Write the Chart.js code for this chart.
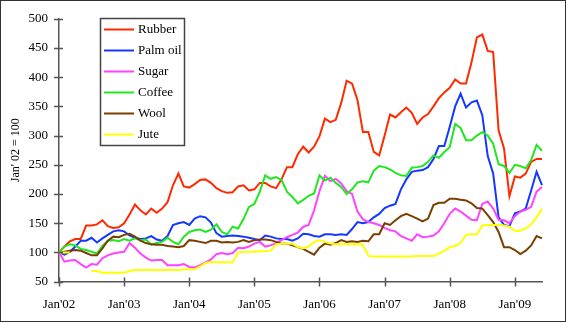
<!DOCTYPE html>
<html>
<head>
<meta charset="utf-8">
<title>Commodity prices</title>
<script src="https://cdn.jsdelivr.net/npm/chart.js@4.4.1/dist/chart.umd.min.js"></script>
<style>
  html, body { margin: 0; padding: 0; background: #fff; }
  #wrap { position: relative; width: 566px; height: 323px; }
  #frame {
    position: absolute; left: 0; top: 0; width: 566px; height: 322px;
    box-sizing: border-box; border: 1px solid #333; pointer-events: none;
  }
</style>
</head>
<body>
<div id="wrap">
  <canvas id="commodityChart" width="566" height="323"></canvas>
  <div id="frame"></div>
</div>
<script>
// Monthly price indices, Jan 2002 = 100, from Jan'02 to Jun'09
const monthNames = ['Jan', 'Feb', 'Mar', 'Apr', 'May', 'Jun', 'Jul', 'Aug', 'Sep', 'Oct', 'Nov', 'Dec'];
const startYear = 2002;
const monthCount = 90;

const seriesNames = ['Rubber', 'Palm oil', 'Sugar', 'Coffee', 'Wool', 'Jute'];
const seriesColors = ['#ff2a00', '#1438ff', '#ff44ff', '#22e622', '#7a3e00', '#ffff00'];

const rubber = [
  100, 110, 119, 123, 123, 146, 146, 148, 155, 145, 142, 143,
  150, 165, 182, 172, 165, 175, 168, 175, 186, 215, 235, 213,
  211, 217, 224, 225, 219, 210, 205, 202, 203, 213, 215, 206,
  208, 219, 219, 213, 210, 225, 246, 246, 268, 281, 271, 281,
  299, 329, 323, 327, 356, 394, 389, 361, 306, 306, 272, 266,
  300, 336, 331, 340, 348, 339, 320, 331, 337, 350, 364, 374,
  382, 396, 389, 389, 425, 468, 473, 445, 443, 309, 278, 196,
  230, 228, 235, 255, 260, 260
];
const palmOil = [
  100, 96, 101, 110, 120, 120, 125, 117, 124, 130, 136, 138,
  136, 129, 125, 123, 124, 128, 122, 120, 128, 147, 150, 152,
  147, 158, 162, 160, 151, 133, 127, 128, 129, 128, 127, 125,
  123, 121, 129, 127, 124, 123, 123, 120, 124, 132, 131, 128,
  127, 131, 131, 130, 131, 130, 140, 152, 150, 152, 160, 166,
  176, 180, 183, 208, 225, 238, 240, 241, 246, 260, 282, 282,
  315, 350, 372, 348, 357, 360, 335, 265, 235, 160, 147, 145,
  167, 170, 175, 206, 238, 215
];
const sugar = [
  100, 84, 86, 87, 80, 74, 80, 79, 90, 95, 98, 100,
  101, 116, 108, 98, 91, 86, 87, 87, 78, 78, 78, 80,
  75, 74, 78, 83, 88, 97, 99, 97, 99, 108, 107, 110,
  115, 118, 110, 112, 116, 121, 126, 130, 134, 144, 147, 172,
  205, 231, 222, 226, 218, 205, 200, 170, 157, 152, 150, 147,
  142, 138, 136, 128, 124, 120, 131, 126, 127, 129, 136, 150,
  166, 175, 170, 163, 156, 155, 183, 187, 175, 156, 155, 150,
  162, 170, 173, 178, 204, 212
];
const coffee = [
  100, 110, 114, 112, 106, 104, 101, 98, 111, 120, 121, 119,
  123, 120, 124, 121, 122, 113, 116, 118, 125, 118, 114, 127,
  135, 138, 139, 135, 139, 148, 135, 131, 144, 141, 157, 178,
  183, 204, 232, 226, 229, 224, 204, 195, 184, 190, 197, 201,
  232, 223, 228, 219, 212, 200, 208, 220, 222, 220, 240, 248,
  246, 242, 236, 232, 231, 245, 246, 248, 255, 266, 262, 272,
  280, 320, 313, 292, 292, 300, 306, 300, 286, 251, 248, 236,
  250, 248, 244, 258, 284, 274
];
const wool = [
  100, 101, 103, 104, 103, 99, 95, 95, 107, 120, 127, 126,
  130, 132, 127, 120, 116, 114, 113, 113, 111, 110, 109, 111,
  121, 120, 118, 116, 120, 120, 117, 118, 117, 118, 121, 118,
  121, 122, 122, 121, 118, 115, 115, 112, 109, 106, 101, 96,
  108, 115, 113, 116, 121, 118, 119, 118, 120, 119, 131, 131,
  150, 147, 155, 162, 166, 162, 158, 153, 158, 181, 185, 185,
  192, 192, 190, 189, 184, 176, 175, 164, 152, 135, 109, 109,
  104, 97, 103, 112, 128, 124
];
// no Jute quotes for Apr-Jun 2002
const jute = [
  100, 100, 100, null, null, null, 68, 68, 65, 65, 65, 65,
  65, 68, 70, 70, 70, 70, 70, 70, 70, 70, 70, 71,
  71, 71, 76, 82, 84, 83, 83, 83, 83, 100, 101, 101,
  101, 102, 102, 103, 114, 115, 115, 115, 109, 107, 110, 118,
  121, 118, 115, 114, 114, 114, 114, 114, 113, 94, 93, 93,
  93, 93, 93, 93, 93, 93, 94, 94, 94, 94, 98, 103,
  109, 111, 116, 130, 131, 131, 146, 147, 147, 147, 146, 144,
  137, 137, 141, 148, 160, 175
];

const seriesValues = [rubber, palmOil, sugar, coffee, wool, jute];

const yMin = 50;
const yMax = 500;
const yStep = 50;

const months = [];
for (let i = 0; i < monthCount; i++) {
  const yy = String((startYear + Math.floor(i / 12)) % 100).padStart(2, '0');
  months.push(monthNames[i % 12] + "'" + yy);
}

const serif = "'Liberation Serif', 'Times New Roman', serif";
const axisColor = '#555';

// short tick marks that cross the axis lines
const crossTicks = {
  id: 'crossTicks',
  afterDraw(chart) {
    const { ctx, chartArea, scales } = chart;
    ctx.save();
    ctx.strokeStyle = axisColor;
    ctx.lineWidth = 1.5;
    ctx.beginPath();
    scales.y.ticks.forEach((t, i) => {
      const py = Math.round(scales.y.getPixelForTick(i)) + 0.5;
      ctx.moveTo(chartArea.left - 5, py);
      ctx.lineTo(chartArea.left + 4, py);
    });
    scales.x.ticks.forEach((t, i) => {
      if (t.label === null || t.label === undefined || t.label === '') return;
      const px = Math.round(scales.x.getPixelForTick(i)) + 0.5;
      ctx.moveTo(px, chartArea.bottom - 4);
      ctx.lineTo(px, chartArea.bottom + 5);
    });
    ctx.stroke();
    ctx.restore();
  }
};

// boxed legend sitting inside the plot area
const boxLegend = {
  id: 'boxLegend',
  afterDraw(chart) {
    const { ctx } = chart;
    const bx = 100.5, by = 18.5, bw = 84, bh = 127;
    ctx.save();
    ctx.fillStyle = '#fff';
    ctx.fillRect(bx, by, bw, bh);
    ctx.strokeStyle = '#444';
    ctx.lineWidth = 1.5;
    ctx.strokeRect(bx, by, bw, bh);
    ctx.font = '13px ' + serif;
    ctx.textBaseline = 'middle';
    ctx.textAlign = 'left';
    chart.data.datasets.forEach((ds, i) => {
      const ly = by + 11 + i * 21;
      ctx.strokeStyle = ds.borderColor;
      ctx.lineWidth = 2;
      ctx.beginPath();
      ctx.moveTo(bx + 3.5, ly);
      ctx.lineTo(bx + 33.5, ly);
      ctx.stroke();
      ctx.fillStyle = '#000';
      ctx.fillText(ds.label, bx + 37.5, ly + 0.5);
    });
    ctx.restore();
  }
};

const datasets = seriesNames.map((name, i) => ({
  label: name,
  data: seriesValues[i],
  borderColor: seriesColors[i],
  backgroundColor: seriesColors[i],
  borderWidth: 2,
  pointRadius: 0,
  tension: 0,
  spanGaps: false,
  fill: false,
  order: seriesNames.length - 1 - i
}));

new Chart(document.getElementById('commodityChart'), {
  type: 'line',
  data: { labels: months, datasets: datasets },
  plugins: [crossTicks, boxLegend],
  options: {
    responsive: false,
    animation: false,
    events: [],
    layout: { padding: { top: 18.3, right: 24, bottom: 0, left: 0 } },
    plugins: {
      legend: { display: false },
      tooltip: { enabled: false }
    },
    scales: {
      x: {
        type: 'category',
        offset: false,
        grid: { display: true, drawOnChartArea: false, drawTicks: false },
        border: { display: true, color: axisColor, width: 1.5 },
        ticks: {
          autoSkip: false,
          maxRotation: 0,
          padding: 15,
          color: '#000',
          font: { family: serif, size: 13 },
          callback: function (value) {
            const label = this.getLabelForValue(value);
            return label.startsWith('Jan') ? label : null;
          }
        },
        afterFit: (scale) => { scale.height = 41.4; }
      },
      y: {
        min: yMin,
        max: yMax,
        grid: { display: true, drawOnChartArea: false, drawTicks: false },
        border: { display: true, color: axisColor, width: 1.5 },
        ticks: {
          stepSize: yStep,
          padding: 11,
          color: '#000',
          font: { family: serif, size: 13 }
        },
        title: {
          display: true,
          text: "Jan' 02 = 100",
          color: '#000',
          font: { family: serif, size: 12 },
          padding: { top: 9, bottom: 0 }
        },
        afterFit: (scale) => { scale.width = 59; }
      }
    }
  }
});
</script>
</body>
</html>
